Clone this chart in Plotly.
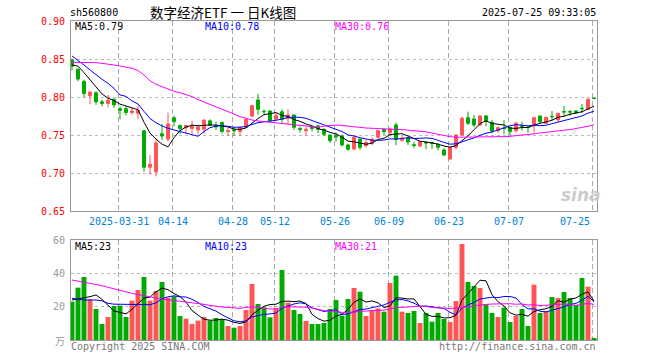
import plotly.graph_objects as go
import pandas as pd
import numpy as np

# ---------------- data ----------------
holidays = ['2025-04-04', '2025-05-01', '2025-05-02', '2025-05-05', '2025-06-02']
dates = [d.strftime('%Y-%m-%d') for d in pd.bdate_range('2025-03-19', '2025-07-25')
         if d.strftime('%Y-%m-%d') not in holidays]

opens = [0.849, 0.837, 0.821, 0.802, 0.806, 0.794, 0.792, 0.797, 0.785, 0.785,
         0.780, 0.779, 0.756, 0.708, 0.702, 0.752, 0.745, 0.773, 0.763, 0.760,
         0.759, 0.757, 0.758, 0.769, 0.763, 0.767, 0.755, 0.757, 0.755, 0.7605,
         0.7754, 0.7965, 0.7815, 0.782, 0.7715, 0.781, 0.7724, 0.7768, 0.759, 0.756,
         0.761, 0.7623, 0.758, 0.7504, 0.7496, 0.749, 0.7373, 0.732, 0.7447, 0.7364,
         0.7395, 0.7474, 0.7579, 0.7535, 0.7636, 0.7434, 0.7465, 0.7377, 0.736, 0.7408,
         0.7408, 0.7382, 0.7307, 0.7189, 0.7342, 0.7504, 0.7732, 0.7715, 0.7636, 0.7754,
         0.767, 0.7561, 0.7595, 0.7605, 0.7561, 0.7625, 0.7608, 0.7623, 0.7754, 0.7658,
         0.7748, 0.7702, 0.7812, 0.7812, 0.782, 0.7856, 0.7842, 0.7988]
highs = [0.851, 0.838, 0.823, 0.808, 0.808, 0.797, 0.803, 0.799, 0.788, 0.788,
         0.786, 0.789, 0.757, 0.724, 0.746, 0.765, 0.780, 0.776, 0.764, 0.764,
         0.769, 0.764, 0.771, 0.771, 0.768, 0.768, 0.760, 0.761, 0.761, 0.7724,
         0.790, 0.8044, 0.7842, 0.7833, 0.779, 0.784, 0.7842, 0.777, 0.7614, 0.761,
         0.763, 0.764, 0.759, 0.751, 0.7535, 0.751, 0.739, 0.749, 0.7465, 0.744,
         0.7474, 0.757, 0.759, 0.7605, 0.7667, 0.7487, 0.748, 0.7417, 0.742, 0.742,
         0.741, 0.739, 0.733, 0.735, 0.7513, 0.7746, 0.7811, 0.7767, 0.7765, 0.7767,
         0.770, 0.7614, 0.770, 0.761, 0.768, 0.768, 0.761, 0.7745, 0.7758, 0.7745,
         0.782, 0.7795, 0.7886, 0.7833, 0.7826, 0.7912, 0.7985, 0.7995]
lows = [0.835, 0.821, 0.800, 0.791, 0.790, 0.788, 0.787, 0.786, 0.771, 0.776,
        0.777, 0.771, 0.702, 0.698, 0.696, 0.744, 0.742, 0.762, 0.752, 0.752,
        0.752, 0.752, 0.752, 0.762, 0.757, 0.752, 0.749, 0.749, 0.749, 0.759,
        0.7737, 0.7768, 0.778, 0.768, 0.769, 0.766, 0.765, 0.757, 0.7535, 0.749,
        0.755, 0.7526, 0.749, 0.740, 0.7417, 0.735, 0.7298, 0.730, 0.7307, 0.734,
        0.737, 0.746, 0.7504, 0.7504, 0.737, 0.7417, 0.737, 0.733, 0.7346, 0.7316,
        0.732, 0.730, 0.7228, 0.7175, 0.7316, 0.749, 0.7636, 0.7605, 0.762, 0.762,
        0.7526, 0.7535, 0.7517, 0.7504, 0.7535, 0.7561, 0.7535, 0.7535, 0.7658, 0.7655,
        0.7688, 0.7667, 0.7745, 0.7754, 0.778, 0.779, 0.7833, 0.7975]
closes = [0.841, 0.824, 0.805, 0.807, 0.794, 0.792, 0.796, 0.790, 0.783, 0.780,
          0.782, 0.783, 0.708, 0.712, 0.740, 0.749, 0.765, 0.768, 0.759, 0.763,
          0.762, 0.761, 0.770, 0.763, 0.761, 0.755, 0.756, 0.756, 0.7605, 0.771,
          0.789, 0.7842, 0.781, 0.769, 0.776, 0.771, 0.7768, 0.7605, 0.758, 0.758,
          0.759, 0.758, 0.7513, 0.743, 0.748, 0.7373, 0.7316, 0.7474, 0.7342, 0.7404,
          0.7447, 0.7561, 0.7548, 0.7583, 0.7447, 0.7465, 0.7412, 0.7368, 0.7417, 0.7399,
          0.7395, 0.7342, 0.7241, 0.7342, 0.7504, 0.7724, 0.7658, 0.7636, 0.7754, 0.768,
          0.7556, 0.760, 0.759, 0.7548, 0.7658, 0.762, 0.7603, 0.7732, 0.768, 0.7737,
          0.7745, 0.7789, 0.7807, 0.7807, 0.7798, 0.785, 0.7974, 0.7985]
volumes = [23, 31.4, 37.8, 24.4, 18.6, 9.6, 13.8, 20.4, 20.6, 13.8,
           23.6, 30, 37.8, 23.6, 29.4, 34.8, 25.4, 26.2, 14.4, 12.8,
           9.6, 11.6, 13.8, 11.6, 13.2, 12.4, 8.4, 7.4, 8.4, 18,
           33.6, 21.6, 19.6, 13.6, 19, 42, 22.4, 18, 15.6, 11.4,
           9.6, 9.6, 10.2, 18.6, 24, 14.6, 24.6, 31.2, 29, 14.4,
           18, 19, 17, 34.2, 38.6, 17, 16.2, 17.4, 10.2, 16.2,
           11, 16.2, 12.6, 10.8, 23.4, 57.6, 34.8, 32.4, 31.2, 21.4,
           16.2, 13.8, 19.4, 10.8, 14.4, 18.6, 8.4, 33.2, 16.2, 17.4,
           25.8, 25.2, 28.8, 25.2, 21, 37.2, 32, 1.2]

# moving-average values before the window is filled
price_ma5_head = [0.8425, 0.841, 0.8325, 0.8228]
price_ma10_head = [0.8544, 0.849, 0.8425, 0.836, 0.8294, 0.8237, 0.8184, 0.8118, 0.8031]
price_ma30_head = [0.846, 0.846, 0.846, 0.846, 0.8456, 0.8447, 0.8439, 0.8425, 0.8412, 0.840,
                   0.8382, 0.8351, 0.8294, 0.8219, 0.8171, 0.814, 0.8105, 0.8079, 0.8061, 0.8039,
                   0.8009, 0.797, 0.794, 0.790, 0.7877, 0.7846, 0.7811, 0.778, 0.7746]
vol_ma5_head = [24, 24.6, 25.4, 26]
vol_ma10_head = [25, 24.5, 24, 24, 24, 23.5, 22, 21.5, 21.5]
vol_ma30_head = [36, 35.4, 34.8, 34, 33.4, 32.6, 31.6, 30.6, 29.8, 29,
                 28, 27.2, 26.4, 25.8, 25.2, 24.6, 24.2, 23.8, 23.4, 23,
                 22.6, 22, 21.4, 20.8, 20.2, 19.8, 19.6, 19.2, 19]

tick_dates = ['2025-03-31', '2025-04-14', '2025-04-28', '2025-05-12', '2025-05-26',
              '2025-06-09', '2025-06-23', '2025-07-07', '2025-07-25']
tick_text = ['2025-03-31', '04-14', '04-28', '05-12', '05-26', '06-09', '06-23', '07-07', '07-25']
price_ticks = [0.65, 0.70, 0.75, 0.80, 0.85, 0.90]
vol_ticks = [20, 40, 60]

code = 'sh560800'
title = '数字经济ETF 一 日K线图'
stamp = '2025-07-25 09:33:05'

# ---------------- helpers ----------------
def mov_avg(vals, n, head):
    s = pd.Series(vals, dtype=float).rolling(n).mean().to_numpy()
    s[:n - 1] = head
    return s

pma5 = mov_avg(closes, 5, price_ma5_head)
pma10 = mov_avg(closes, 10, price_ma10_head)
pma30 = mov_avg(closes, 30, price_ma30_head)
vma5 = mov_avg(volumes, 5, vol_ma5_head)
vma10 = mov_avg(volumes, 10, vol_ma10_head)
vma30 = mov_avg(volumes, 30, vol_ma30_head)

RED = '#ff5555'
GREEN = '#00aa00'
MONO = 'DejaVu Sans Mono'
W, H = 660, 360
X0, X1 = 71, 597
PY0, PY1 = 21.3, 211.3
VY0, VY1 = 240, 340

xi = list(range(len(dates)))
pos = [dates.index(d) - 0.25 for d in tick_dates]
bar_colors = [RED if c >= o else GREEN for o, c in zip(opens, closes)]

def py(px):
    return 1 - px / H

fig = go.Figure()
fig.add_trace(go.Candlestick(
    x=xi, open=opens, high=highs, low=lows, close=closes,
    increasing=dict(line=dict(color=RED, width=1), fillcolor=RED),
    decreasing=dict(line=dict(color=GREEN, width=1), fillcolor=GREEN),
    whiskerwidth=0, xaxis='x', yaxis='y', text=dates, hoverinfo='text+y'))
for arr, col in [(pma5, '#000000'), (pma10, '#0000ff'), (pma30, '#ff00ff')]:
    fig.add_trace(go.Scatter(x=xi, y=arr, mode='lines', line=dict(color=col, width=1),
                             xaxis='x', yaxis='y', hoverinfo='skip'))
fig.add_trace(go.Bar(x=xi, y=volumes, marker=dict(color=bar_colors, line=dict(width=0)),
                     xaxis='x2', yaxis='y2', hoverinfo='y'))
for arr, col in [(vma5, '#000000'), (vma10, '#0000ff'), (vma30, '#ff00ff')]:
    fig.add_trace(go.Scatter(x=xi, y=arr, mode='lines', line=dict(color=col, width=1),
                             xaxis='x2', yaxis='y2', hoverinfo='skip'))

xr = [-1 / 6, 87.5]
axis_common = dict(showline=True, mirror=True, linecolor='#999999', linewidth=1,
                   zeroline=False, ticks='', showticklabels=False)
xdom = [X0 / W, X1 / W]
fig.update_layout(
    width=W, height=H, margin=dict(l=0, r=0, t=0, b=0),
    paper_bgcolor='white', plot_bgcolor='white', showlegend=False,
    bargap=0.18,
    xaxis=dict(domain=xdom, range=xr, anchor='y', tickvals=pos, showgrid=True,
               gridcolor='#aaaaaa', griddash='5px,3px', gridwidth=1,
               rangeslider=dict(visible=False), **axis_common),
    yaxis=dict(domain=[py(PY1), py(PY0)], range=[price_ticks[0], price_ticks[-1]], anchor='x',
               tickvals=price_ticks[1:-1], showgrid=True, gridcolor='#bbbbbb',
               griddash='dot', gridwidth=1, **axis_common),
    xaxis2=dict(domain=xdom, range=xr, anchor='y2', tickvals=pos, showgrid=True,
                gridcolor='#aaaaaa', griddash='5px,3px', gridwidth=1, **axis_common),
    yaxis2=dict(domain=[py(VY1), py(VY0)], range=[0, vol_ticks[-1]], anchor='x2',
                tickvals=vol_ticks[:-1], showgrid=True, gridcolor='#bbbbbb',
                griddash='dot', gridwidth=1, **axis_common),
)

ann = []
def txt(x, y, s, color='#000000', size=10, family=MONO, xanchor='left', yanchor='middle',
        xref='paper', yref='paper', **kw):
    ann.append(dict(x=x, y=y, text=s, showarrow=False, xref=xref, yref=yref,
                    xanchor=xanchor, yanchor=yanchor, borderpad=0,
                    font=dict(color=color, size=size, family=family), **kw))

# header
txt(69 / W, py(13), code)
txt(223 / W, py(11.5), title, size=13.5, family='Noto Sans CJK SC', xanchor='center')
txt(597 / W, py(13), stamp, xanchor='right')

# MA legends
txt(74 / W, py(27), f'MA5:{pma5[-1]:.2f}', '#000000')
txt(204 / W, py(27), f'MA10:{pma10[-1]:.2f}', '#0000ff')
txt(334 / W, py(27), f'MA30:{pma30[-1]:.2f}', '#ff00ff')
txt(74 / W, py(246), f'MA5:{vma5[-1]:.0f}', '#000000')
txt(204 / W, py(246), f'MA10:{vma10[-1]:.0f}', '#0000ff')
txt(334 / W, py(246), f'MA30:{vma30[-1]:.0f}', '#ff00ff')

# price axis labels
for v in price_ticks:
    txt(66 / W, v, f'{v:.2f}', '#ff0000', xanchor='right', yref='y')
# volume axis labels
for v in vol_ticks:
    txt(66 / W, v, f'{v}', '#999999', xanchor='right', yref='y2')
txt(66 / W, 0, '万', '#999999', xanchor='right', yref='y2', family='Noto Sans CJK SC')

# date labels
for i, (p, t) in enumerate(zip(pos, tick_text)):
    last = i == len(pos) - 1
    txt(p, py(221), t, '#0082d8', xanchor='right' if last else 'center', xref='x',
        xshift=-2 if last else 0)

# footer
txt(70 / W, py(346), 'Copyright 2025 SINA.COM', '#777777')
txt(597 / W, py(346), 'http://finance.sina.com.cn', '#777777', xanchor='right')
# watermark
txt(581 / W, py(195), '<b><i>sina</i></b>', '#cccccc', size=17, family='DejaVu Sans',
    xanchor='center')

fig.update_layout(annotations=ann)
fig.write_html('out.html', config={'displayModeBar': False},
               post_script="document.body.style.margin='0px';document.body.style.overflow='hidden';")
